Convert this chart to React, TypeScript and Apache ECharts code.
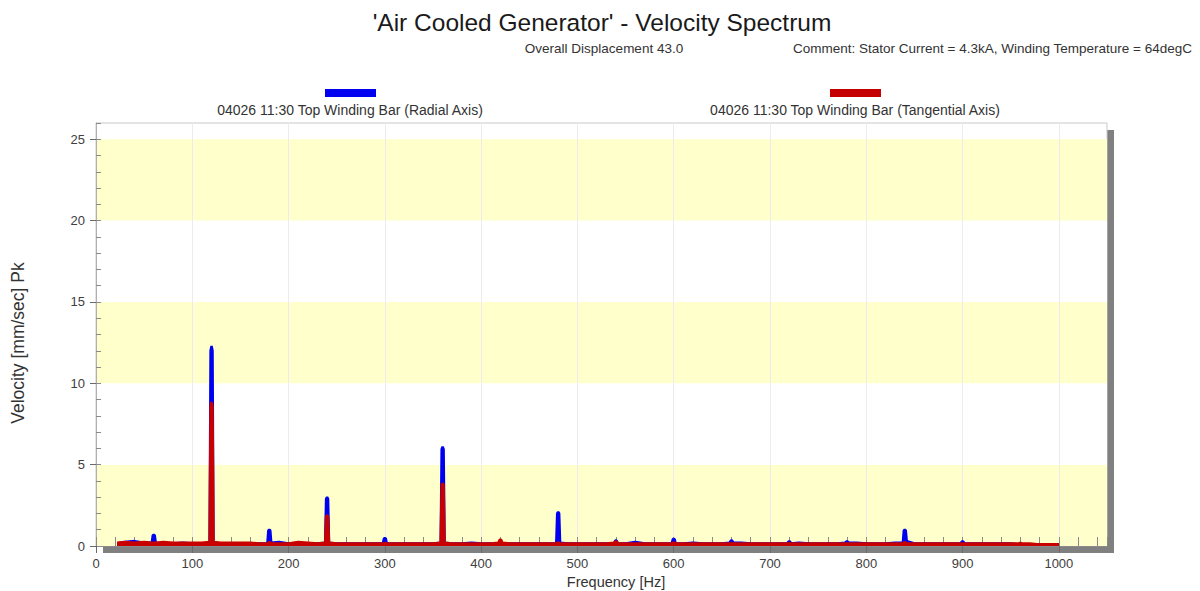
import React, { useEffect, useRef } from "react";
import * as echarts from "echarts";

// Frequency nodes [Hz] shared by both traces
const FREQ = [22, 30, 40, 50,
  58, 59, 60, 61, 62, 70, 80, 90, 100, 110,
  118, 119, 120, 121, 122, 130, 140, 150, 160, 170,
  178, 179, 180, 181, 182, 190, 200, 210, 220, 230,
  238, 239, 240, 241, 242, 250, 260, 270, 280, 290,
  298, 299, 300, 301, 302, 310, 320, 330, 340, 350,
  358, 359, 360, 361, 362, 370, 380, 390, 400, 410,
  418, 419, 420, 421, 422, 430, 440, 450, 460, 470,
  478, 479, 480, 481, 482, 490, 500, 510, 520, 530,
  538, 539, 540, 541, 542, 550, 560, 570, 580, 590,
  598, 599, 600, 601, 602, 610, 620, 630, 640, 650,
  658, 659, 660, 661, 662, 670, 680, 690, 700, 710,
  718, 719, 720, 721, 722, 730, 740, 750, 760, 770,
  778, 779, 780, 781, 782, 790, 800, 810, 820, 830,
  838, 839, 840, 841, 842, 850, 860, 870, 880, 890,
  898, 899, 900, 901, 902, 910, 920, 930, 940, 950,
  958, 959, 960, 961, 962, 970, 980, 990, 1000];

// Radial axis velocity [mm/sec] Pk
const RADIAL = [0.15, 0.25, 0.3, 0.2,
  0.2, 0.65, 0.7, 0.65, 0.2, 0.15, 0.15, 0.2, 0.15, 0.15,
  0.2, 12.0, 12.3, 12.0, 0.2, 0.15, 0.15, 0.15, 0.15, 0.15,
  0.15, 0.95, 1.0, 0.95, 0.2, 0.25, 0.15, 0.15, 0.15, 0.15,
  0.2, 2.9, 3.0, 2.9, 0.2, 0.15, 0.15, 0.15, 0.15, 0.15,
  0.15, 0.45, 0.5, 0.45, 0.15, 0.15, 0.15, 0.15, 0.15, 0.15,
  0.2, 5.95, 6.1, 5.95, 0.2, 0.15, 0.15, 0.2, 0.15, 0.15,
  0.15, 0.2, 0.25, 0.2, 0.15, 0.15, 0.15, 0.15, 0.15, 0.15,
  0.15, 2.0, 2.1, 2.0, 0.2, 0.15, 0.15, 0.15, 0.15, 0.15,
  0.15, 0.3, 0.35, 0.3, 0.15, 0.15, 0.25, 0.15, 0.15, 0.15,
  0.15, 0.4, 0.45, 0.4, 0.15, 0.15, 0.2, 0.15, 0.15, 0.15,
  0.2, 0.3, 0.35, 0.3, 0.2, 0.2, 0.15, 0.15, 0.15, 0.15,
  0.15, 0.25, 0.3, 0.25, 0.15, 0.2, 0.15, 0.15, 0.15, 0.15,
  0.2, 0.25, 0.3, 0.25, 0.2, 0.2, 0.15, 0.15, 0.15, 0.2,
  0.2, 0.95, 1.0, 0.95, 0.3, 0.15, 0.15, 0.15, 0.15, 0.15,
  0.15, 0.25, 0.3, 0.25, 0.15, 0.15, 0.15, 0.15, 0.15, 0.15,
  0.1, 0.15, 0.15, 0.15, 0.1, 0.1, 0.1, 0.1, 0.1];

// Tangential axis velocity [mm/sec] Pk
const TANGENTIAL = [0.2, 0.25, 0.2, 0.25,
  0.2, 0.2, 0.2, 0.2, 0.2, 0.25, 0.2, 0.2, 0.2, 0.2,
  0.25, 8.6, 8.85, 8.6, 0.25, 0.2, 0.2, 0.2, 0.2, 0.15,
  0.15, 0.2, 0.25, 0.2, 0.15, 0.15, 0.15, 0.25, 0.2, 0.15,
  0.2, 1.8, 1.9, 1.8, 0.2, 0.15, 0.15, 0.15, 0.15, 0.15,
  0.15, 0.15, 0.2, 0.15, 0.15, 0.15, 0.15, 0.15, 0.15, 0.15,
  0.2, 3.75, 3.85, 3.75, 0.2, 0.15, 0.15, 0.15, 0.15, 0.15,
  0.2, 0.35, 0.4, 0.35, 0.2, 0.15, 0.15, 0.15, 0.15, 0.15,
  0.15, 0.2, 0.2, 0.2, 0.15, 0.15, 0.15, 0.15, 0.15, 0.15,
  0.2, 0.25, 0.3, 0.25, 0.15, 0.15, 0.15, 0.15, 0.15, 0.15,
  0.15, 0.2, 0.2, 0.2, 0.15, 0.15, 0.15, 0.15, 0.15, 0.15,
  0.15, 0.15, 0.2, 0.15, 0.15, 0.15, 0.15, 0.15, 0.15, 0.15,
  0.15, 0.15, 0.2, 0.15, 0.15, 0.15, 0.15, 0.15, 0.15, 0.15,
  0.15, 0.15, 0.15, 0.15, 0.15, 0.15, 0.15, 0.15, 0.15, 0.15,
  0.15, 0.2, 0.25, 0.2, 0.15, 0.15, 0.15, 0.15, 0.15, 0.15,
  0.15, 0.15, 0.15, 0.15, 0.15, 0.15, 0.15, 0.15, 0.15, 0.15,
  0.15, 0.15, 0.2, 0.15, 0.15, 0.15, 0.1, 0.1, 0.1];

const X_LABELS = [0, 100, 200, 300, 400, 500, 600, 700, 800, 900, 1000];
const Y_LABELS = [0, 5, 10, 15, 20, 25];

const TITLE = "'Air Cooled Generator' - Velocity Spectrum";
const SUB_LEFT = "Overall Displacement 43.0";
const SUB_RIGHT = "Comment: Stator Current = 4.3kA, Winding Temperature = 64degC";
const NAME_RADIAL = "04026 11:30 Top Winding Bar (Radial Axis)";
const NAME_TANGENTIAL = "04026 11:30 Top Winding Bar (Tangential Axis)";

const FONT = "'Liberation Sans', Arial, sans-serif";

export default function App() {
  const ref = useRef<HTMLDivElement>(null);
  useEffect(() => {
    if (!ref.current) return;
    const chart = echarts.init(ref.current, undefined, { renderer: "svg" });
    const radial = FREQ.map((f, i) => [f, RADIAL[i]]);
    const tang = FREQ.map((f, i) => [f, TANGENTIAL[i]]);
    const labelStyle = { color: "#404040", fontSize: 13, fontFamily: FONT, formatter: (v: number) => String(v) };
    chart.setOption({
      animation: false,
      backgroundColor: "#ffffff",
      textStyle: { fontFamily: FONT },
      grid: {
        left: 96, right: 93, top: 123, bottom: 45,
        show: true, backgroundColor: "#ffffff", borderColor: "#c8c8c8", borderWidth: 1,
        containLabel: false,
      },
      xAxis: [
        {
          type: "value", min: 0, max: 1050, interval: 100,
          axisLine: { show: true, onZero: false, lineStyle: { color: "#8a8a8a", width: 1 } },
          axisTick: { show: true, length: 7, customValues: X_LABELS, lineStyle: { color: "#6a6a6a" } },
          axisLabel: { customValues: X_LABELS, margin: 11, ...labelStyle },
          splitLine: { show: true, lineStyle: { color: "#ececec", width: 1 } },
        },
        {
          type: "value", min: 0, max: 1050, interval: 20, position: "bottom",
          axisLine: { show: false },
          axisTick: { show: true, inside: true, length: 9, lineStyle: { color: "#8a8a8a" } },
          axisLabel: { show: false },
          splitLine: { show: false },
        },
      ],
      yAxis: [
        {
          type: "value", min: 0, max: 26, interval: 5,
          axisLine: { show: true, lineStyle: { color: "#b0b0b0" } },
          axisTick: { show: true, length: 6, customValues: Y_LABELS, lineStyle: { color: "#6a6a6a" } },
          axisLabel: { customValues: Y_LABELS, margin: 11, ...labelStyle },
          splitLine: { show: false },
          splitArea: { show: true, areaStyle: { color: ["#ffffcc", "#ffffff"] } },
        },
        {
          type: "value", min: 0, max: 26, interval: 1, position: "left",
          axisLine: { show: false },
          axisTick: { show: true, inside: true, length: 5, lineStyle: { color: "#8a8a8a" } },
          axisLabel: { show: false },
          splitLine: { show: false },
        },
      ],
      graphic: [
        {
          type: "rect", z: -10, silent: true,
          shape: { x: 103, y: 130, width: 1011, height: 423 },
          style: { fill: "#808080" },
        },
        {
          type: "text", x: 602, y: 22,
          style: { text: TITLE, textAlign: "center", textVerticalAlign: "middle", fontSize: 24.5, fontFamily: FONT, fill: "#1a1a1a" },
        },
        {
          type: "text", x: 604, y: 48,
          style: { text: SUB_LEFT, textAlign: "center", textVerticalAlign: "middle", fontSize: 13.5, fontFamily: FONT, fill: "#333" },
        },
        {
          type: "text", x: 1192, y: 48,
          style: { text: SUB_RIGHT, textAlign: "right", textVerticalAlign: "middle", fontSize: 13.5, fontFamily: FONT, fill: "#333" },
        },
        { type: "rect", shape: { x: 325, y: 89, width: 51, height: 8 }, style: { fill: "#0000f0" } },
        {
          type: "text", x: 350, y: 110,
          style: { text: NAME_RADIAL, textAlign: "center", textVerticalAlign: "middle", fontSize: 14, fontFamily: FONT, fill: "#333" },
        },
        { type: "rect", shape: { x: 830, y: 89, width: 51, height: 8 }, style: { fill: "#c40000" } },
        {
          type: "text", x: 855, y: 110,
          style: { text: NAME_TANGENTIAL, textAlign: "center", textVerticalAlign: "middle", fontSize: 14, fontFamily: FONT, fill: "#333" },
        },
        {
          type: "text", x: 18, y: 343, rotation: Math.PI / 2,
          style: { text: "Velocity [mm/sec] Pk", textAlign: "center", textVerticalAlign: "middle", fontSize: 17.5, fontFamily: FONT, fill: "#333" },
        },
        {
          type: "text", x: 616, y: 582,
          style: { text: "Frequency [Hz]", textAlign: "center", textVerticalAlign: "middle", fontSize: 14.5, fontFamily: FONT, fill: "#333" },
        },
      ],
      series: [
        {
          name: NAME_RADIAL, type: "line", data: radial, xAxisIndex: 0, yAxisIndex: 0,
          showSymbol: false, symbol: "none",
          lineStyle: { color: "#0000f0", width: 2.5 },
          areaStyle: { color: "#0000f0", opacity: 1 },
          z: 3,
        },
        {
          name: NAME_TANGENTIAL, type: "line", data: tang, xAxisIndex: 0, yAxisIndex: 0,
          showSymbol: false, symbol: "none",
          lineStyle: { color: "#c80000", width: 2.5 },
          areaStyle: { color: "#c80000", opacity: 1 },
          z: 4,
        },
      ],
    });
    return () => chart.dispose();
  }, []);
  return (
    <div
      ref={ref}
      style={{ position: "fixed", left: 0, top: 0, width: 1200, height: 591 }}
    />
  );
}
